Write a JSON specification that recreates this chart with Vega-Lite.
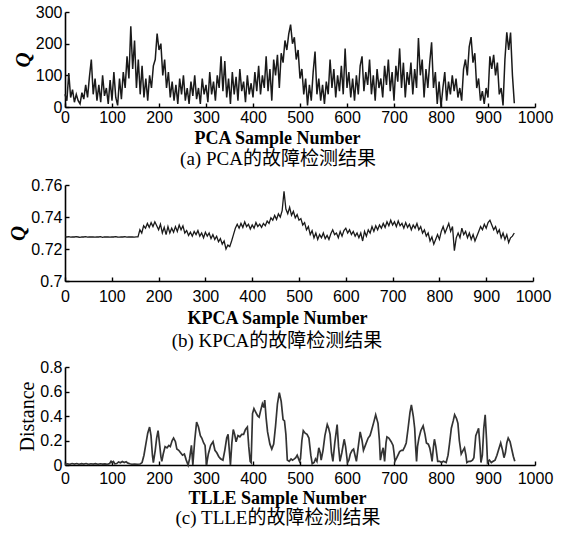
{
  "$schema": "https://vega.github.io/schema/vega-lite/v6.json",
  "background": "white",
  "padding": {"left": 7, "top": 4, "right": 5, "bottom": 0},
  "spacing": 8,
  "config": {
    "view": {"stroke": null},
    "axis": {
      "domainColor": "black", "domainWidth": 1.6, "tickColor": "black", "tickWidth": 1.4, "tickSize": -4,
      "labelFont": "Liberation Sans", "labelFontSize": 16, "labelColor": "black", "labelFlush": false, "labelOverlap": false,
      "titleColor": "black", "grid": false
    },
    "axisX": {"labelPadding": 6, "format": "d", "titleFont": "Liberation Serif", "titleFontSize": 18, "titleFontWeight": "bold", "titlePadding": 4, "titleX": 212, "titleAnchor": "middle"},
    "axisY": {"labelPadding": 7, "titlePadding": 2, "titleFont": "Liberation Serif"},
    "title": {"font": "Liberation Serif, Noto Sans CJK SC", "fontSize": 19, "fontWeight": "normal", "color": "black", "orient": "bottom", "anchor": "middle", "frame": "group", "dx": -22, "offset": 2}
  },
  "datasets": {
    "pca": [
      {"x":0,"q":40},{"x":4,"q":20},{"x":8,"q":107},{"x":12,"q":30},{"x":16,"q":55},{"x":20,"q":15},{"x":24,"q":40},{"x":28,"q":20},{"x":32,"q":10},{"x":36,"q":45},{"x":40,"q":25},{"x":44,"q":70},{"x":48,"q":30},{"x":52,"q":95},{"x":56,"q":150},{"x":60,"q":40},{"x":64,"q":90},{"x":68,"q":20},{"x":72,"q":70},{"x":76,"q":15},{"x":80,"q":100},{"x":84,"q":35},{"x":88,"q":60},{"x":92,"q":10},{"x":96,"q":85},
      {"x":100,"q":20},{"x":104,"q":110},{"x":108,"q":30},{"x":112,"q":5},{"x":116,"q":90},{"x":120,"q":25},{"x":124,"q":110},{"x":128,"q":60},{"x":132,"q":160},{"x":136,"q":90},{"x":140,"q":255},{"x":144,"q":120},{"x":148,"q":210},{"x":152,"q":60},{"x":156,"q":150},{"x":160,"q":40},{"x":164,"q":130},{"x":168,"q":30},{"x":172,"q":90},{"x":176,"q":20},{"x":180,"q":100},{"x":184,"q":60},{"x":188,"q":130},{"x":192,"q":150},{"x":196,"q":232},
      {"x":200,"q":180},{"x":204,"q":200},{"x":208,"q":100},{"x":212,"q":150},{"x":216,"q":60},{"x":220,"q":110},{"x":224,"q":30},{"x":228,"q":80},{"x":232,"q":20},{"x":236,"q":70},{"x":240,"q":10},{"x":244,"q":90},{"x":248,"q":40},{"x":252,"q":100},{"x":256,"q":20},{"x":260,"q":60},{"x":264,"q":10},{"x":268,"q":80},{"x":272,"q":35},{"x":276,"q":100},{"x":280,"q":25},{"x":284,"q":60},{"x":288,"q":10},{"x":292,"q":90},{"x":296,"q":40},
      {"x":300,"q":70},{"x":304,"q":15},{"x":308,"q":110},{"x":312,"q":40},{"x":316,"q":80},{"x":320,"q":20},{"x":324,"q":100},{"x":328,"q":60},{"x":332,"q":160},{"x":336,"q":50},{"x":340,"q":145},{"x":344,"q":30},{"x":348,"q":90},{"x":352,"q":10},{"x":356,"q":110},{"x":360,"q":40},{"x":364,"q":95},{"x":368,"q":20},{"x":372,"q":120},{"x":376,"q":50},{"x":380,"q":80},{"x":384,"q":15},{"x":388,"q":100},{"x":392,"q":40},{"x":396,"q":75},
      {"x":400,"q":30},{"x":404,"q":110},{"x":408,"q":50},{"x":412,"q":130},{"x":416,"q":40},{"x":420,"q":100},{"x":424,"q":60},{"x":428,"q":160},{"x":432,"q":50},{"x":436,"q":120},{"x":440,"q":20},{"x":444,"q":150},{"x":448,"q":100},{"x":452,"q":165},{"x":456,"q":60},{"x":460,"q":170},{"x":464,"q":140},{"x":468,"q":210},{"x":472,"q":180},{"x":476,"q":230},{"x":480,"q":260},{"x":484,"q":200},{"x":488,"q":220},{"x":492,"q":150},{"x":496,"q":180},
      {"x":500,"q":90},{"x":504,"q":120},{"x":508,"q":40},{"x":512,"q":90},{"x":516,"q":5},{"x":520,"q":70},{"x":524,"q":20},{"x":528,"q":110},{"x":532,"q":175},{"x":536,"q":40},{"x":540,"q":90},{"x":544,"q":20},{"x":548,"q":70},{"x":552,"q":10},{"x":556,"q":80},{"x":560,"q":40},{"x":564,"q":150},{"x":568,"q":60},{"x":572,"q":120},{"x":576,"q":30},{"x":580,"q":100},{"x":584,"q":50},{"x":588,"q":130},{"x":592,"q":40},{"x":596,"q":185},
      {"x":600,"q":60},{"x":604,"q":110},{"x":608,"q":30},{"x":612,"q":90},{"x":616,"q":20},{"x":620,"q":100},{"x":624,"q":40},{"x":628,"q":130},{"x":632,"q":160},{"x":636,"q":50},{"x":640,"q":110},{"x":644,"q":70},{"x":648,"q":150},{"x":652,"q":40},{"x":656,"q":100},{"x":660,"q":20},{"x":664,"q":120},{"x":668,"q":60},{"x":672,"q":90},{"x":676,"q":30},{"x":680,"q":130},{"x":684,"q":70},{"x":688,"q":150},{"x":692,"q":50},{"x":696,"q":110},
      {"x":700,"q":20},{"x":704,"q":130},{"x":708,"q":80},{"x":712,"q":185},{"x":716,"q":60},{"x":720,"q":140},{"x":724,"q":30},{"x":728,"q":110},{"x":732,"q":70},{"x":736,"q":140},{"x":740,"q":40},{"x":744,"q":120},{"x":748,"q":60},{"x":752,"q":218},{"x":756,"q":100},{"x":760,"q":150},{"x":764,"q":30},{"x":768,"q":120},{"x":772,"q":60},{"x":776,"q":140},{"x":780,"q":204},{"x":784,"q":60},{"x":788,"q":110},{"x":792,"q":10},{"x":796,"q":80},
      {"x":800,"q":0},{"x":804,"q":60},{"x":808,"q":110},{"x":812,"q":20},{"x":816,"q":80},{"x":820,"q":40},{"x":824,"q":100},{"x":828,"q":50},{"x":832,"q":90},{"x":836,"q":30},{"x":840,"q":60},{"x":844,"q":20},{"x":848,"q":120},{"x":852,"q":150},{"x":856,"q":100},{"x":860,"q":190},{"x":864,"q":221},{"x":868,"q":140},{"x":872,"q":170},{"x":876,"q":60},{"x":880,"q":90},{"x":884,"q":20},{"x":888,"q":50},{"x":892,"q":10},{"x":896,"q":60},
      {"x":900,"q":30},{"x":904,"q":160},{"x":908,"q":120},{"x":912,"q":165},{"x":916,"q":100},{"x":920,"q":140},{"x":924,"q":40},{"x":928,"q":60},{"x":932,"q":5},{"x":936,"q":150},{"x":940,"q":236},{"x":944,"q":180},{"x":948,"q":235},{"x":952,"q":100},{"x":956,"q":12}
    ],
    "kpca": [
      {"x":0,"q":0.7276},{"x":4,"q":0.7275},{"x":8,"q":0.7277},{"x":12,"q":0.7274},{"x":16,"q":0.7276},{"x":20,"q":0.7275},{"x":24,"q":0.7277},{"x":28,"q":0.7275},{"x":32,"q":0.7273},{"x":36,"q":0.7276},{"x":40,"q":0.7275},{"x":44,"q":0.7277},{"x":48,"q":0.7274},{"x":52,"q":0.7276},{"x":56,"q":0.7275},{"x":60,"q":0.7276},{"x":64,"q":0.7274},{"x":68,"q":0.7276},{"x":72,"q":0.7275},{"x":76,"q":0.7277},{"x":80,"q":0.7273},{"x":84,"q":0.7276},{"x":88,"q":0.7275},{"x":92,"q":0.7276},{"x":96,"q":0.7274},{"x":100,"q":0.7276},{"x":104,"q":0.7275},{"x":108,"q":0.7277},{"x":112,"q":0.7275},{"x":116,"q":0.7274},{"x":120,"q":0.7276},{"x":124,"q":0.7275},{"x":128,"q":0.7277},{"x":132,"q":0.7274},{"x":136,"q":0.7276},{"x":140,"q":0.7275},{"x":144,"q":0.7276},{"x":148,"q":0.7274},{"x":152,"q":0.7276},{"x":156,"q":0.7276},
      {"x":160,"q":0.732},{"x":164,"q":0.73},{"x":168,"q":0.7345},{"x":172,"q":0.733},{"x":176,"q":0.736},{"x":180,"q":0.7335},{"x":184,"q":0.7365},{"x":188,"q":0.734},{"x":192,"q":0.737},{"x":196,"q":0.7345},
      {"x":200,"q":0.732},{"x":204,"q":0.7355},{"x":208,"q":0.73},{"x":212,"q":0.7335},{"x":216,"q":0.729},{"x":220,"q":0.734},{"x":224,"q":0.73},{"x":228,"q":0.733},{"x":232,"q":0.7305},{"x":236,"q":0.734},{"x":240,"q":0.731},{"x":244,"q":0.735},{"x":248,"q":0.732},{"x":252,"q":0.7345},{"x":256,"q":0.73},
      {"x":260,"q":0.7315},{"x":264,"q":0.7285},{"x":268,"q":0.7305},{"x":272,"q":0.728},{"x":276,"q":0.731},{"x":280,"q":0.729},{"x":284,"q":0.7315},{"x":288,"q":0.728},{"x":292,"q":0.73},{"x":296,"q":0.727},{"x":300,"q":0.7305},{"x":304,"q":0.728},{"x":308,"q":0.73},{"x":312,"q":0.7265},{"x":316,"q":0.729},{"x":320,"q":0.726},
      {"x":324,"q":0.728},{"x":328,"q":0.7245},{"x":332,"q":0.7265},{"x":336,"q":0.723},{"x":340,"q":0.725},{"x":344,"q":0.72},{"x":348,"q":0.7225},{"x":352,"q":0.7215},{"x":356,"q":0.725},
      {"x":360,"q":0.729},{"x":364,"q":0.733},{"x":368,"q":0.7355},{"x":372,"q":0.733},{"x":376,"q":0.736},{"x":380,"q":0.7335},{"x":384,"q":0.737},{"x":388,"q":0.734},{"x":392,"q":0.7355},{"x":396,"q":0.7325},{"x":400,"q":0.735},{"x":404,"q":0.733},{"x":408,"q":0.7365},{"x":412,"q":0.734},{"x":416,"q":0.7355},{"x":420,"q":0.7335},{"x":424,"q":0.736},{"x":428,"q":0.7345},
      {"x":432,"q":0.7375},{"x":436,"q":0.736},{"x":440,"q":0.7395},{"x":444,"q":0.738},{"x":448,"q":0.741},{"x":452,"q":0.7385},{"x":456,"q":0.742},{"x":460,"q":0.74},{"x":464,"q":0.744},{"x":468,"q":0.756},
      {"x":472,"q":0.745},{"x":476,"q":0.742},{"x":480,"q":0.746},{"x":484,"q":0.741},{"x":488,"q":0.7435},{"x":492,"q":0.7395},{"x":496,"q":0.7415},{"x":500,"q":0.738},
      {"x":504,"q":0.739},{"x":508,"q":0.735},{"x":512,"q":0.7365},{"x":516,"q":0.732},{"x":520,"q":0.734},{"x":524,"q":0.729},{"x":528,"q":0.7315},{"x":532,"q":0.727},
      {"x":536,"q":0.73},{"x":540,"q":0.726},{"x":544,"q":0.729},{"x":548,"q":0.727},{"x":552,"q":0.73},{"x":556,"q":0.7265},{"x":560,"q":0.7285},{"x":564,"q":0.726},{"x":568,"q":0.7295},{"x":572,"q":0.732},{"x":576,"q":0.729},{"x":580,"q":0.73},{"x":584,"q":0.727},{"x":588,"q":0.731},{"x":592,"q":0.728},{"x":596,"q":0.7315},{"x":600,"q":0.733},{"x":604,"q":0.73},{"x":608,"q":0.732},{"x":612,"q":0.729},{"x":616,"q":0.731},{"x":620,"q":0.728},{"x":624,"q":0.73},{"x":628,"q":0.727},
      {"x":632,"q":0.73},{"x":636,"q":0.725},{"x":640,"q":0.731},{"x":644,"q":0.728},{"x":648,"q":0.732},{"x":652,"q":0.73},{"x":656,"q":0.734},{"x":660,"q":0.731},{"x":664,"q":0.7345},{"x":668,"q":0.732},{"x":672,"q":0.735},{"x":676,"q":0.733},{"x":680,"q":0.736},{"x":684,"q":0.7335},{"x":688,"q":0.737},{"x":692,"q":0.7345},{"x":696,"q":0.738},{"x":700,"q":0.735},
      {"x":704,"q":0.737},{"x":708,"q":0.734},{"x":712,"q":0.7375},{"x":716,"q":0.7345},{"x":720,"q":0.736},{"x":724,"q":0.733},{"x":728,"q":0.7365},{"x":732,"q":0.7335},{"x":736,"q":0.7355},{"x":740,"q":0.732},{"x":744,"q":0.735},{"x":748,"q":0.733},{"x":752,"q":0.736},{"x":756,"q":0.732},{"x":760,"q":0.734},
      {"x":764,"q":0.73},{"x":768,"q":0.732},{"x":772,"q":0.728},{"x":776,"q":0.73},{"x":780,"q":0.725},{"x":784,"q":0.7275},{"x":788,"q":0.723},{"x":792,"q":0.726},{"x":796,"q":0.729},{"x":800,"q":0.726},
      {"x":804,"q":0.731},{"x":808,"q":0.734},{"x":812,"q":0.73},{"x":816,"q":0.733},{"x":820,"q":0.736},{"x":824,"q":0.731},{"x":828,"q":0.734},{"x":832,"q":0.719},
      {"x":836,"q":0.727},{"x":840,"q":0.73},{"x":844,"q":0.727},{"x":848,"q":0.733},{"x":852,"q":0.729},{"x":856,"q":0.731},{"x":860,"q":0.727},{"x":864,"q":0.73},{"x":868,"q":0.726},{"x":872,"q":0.729},{"x":876,"q":0.725},{"x":880,"q":0.728},
      {"x":884,"q":0.731},{"x":888,"q":0.734},{"x":892,"q":0.732},{"x":896,"q":0.7355},{"x":900,"q":0.733},{"x":904,"q":0.7365},{"x":908,"q":0.738},{"x":912,"q":0.735},
      {"x":916,"q":0.732},{"x":920,"q":0.734},{"x":924,"q":0.73},{"x":928,"q":0.732},{"x":932,"q":0.727},{"x":936,"q":0.73},{"x":940,"q":0.726},{"x":944,"q":0.729},{"x":948,"q":0.724},{"x":952,"q":0.727},{"x":956,"q":0.728},{"x":960,"q":0.73}
    ],
    "tlle": [
      {"x":0,"d":0.005},{"x":5,"d":0.01},{"x":10,"d":0.006},{"x":15,"d":0.012},{"x":20,"d":0.007},{"x":25,"d":0.012},{"x":30,"d":0.006},{"x":35,"d":0.011},{"x":40,"d":0.007},{"x":45,"d":0.012},{"x":50,"d":0.006},{"x":55,"d":0.01},{"x":60,"d":0.007},{"x":65,"d":0.011},{"x":70,"d":0.006},{"x":75,"d":0.01},{"x":80,"d":0.007},{"x":85,"d":0.009},{"x":90,"d":0.006},{"x":95,"d":0.012},{"x":98,"d":0.03},{"x":100,"d":0.02},{"x":103,"d":0.028},{"x":106,"d":0.01},{"x":110,"d":0.012},{"x":114,"d":0.025},{"x":118,"d":0.018},{"x":122,"d":0.028},{"x":126,"d":0.02},{"x":130,"d":0.026},{"x":134,"d":0.015},{"x":138,"d":0.01},{"x":142,"d":0.006},{"x":148,"d":0.008},{"x":154,"d":0.006},{"x":160,"d":0.008},{"x":164,"d":0.02},{"x":168,"d":0.08},{"x":172,"d":0.17},{"x":176,"d":0.26},{"x":180,"d":0.31},{"x":183,"d":0.24},{"x":186,"d":0.08},{"x":188,"d":0.02},{"x":192,"d":0.12},{"x":195,"d":0.22},{"x":198,"d":0.28},{"x":201,"d":0.18},{"x":204,"d":0.07},{"x":206,"d":0.03},{"x":209,"d":0.09},{"x":213,"d":0.15},{"x":217,"d":0.14},{"x":221,"d":0.16},{"x":224,"d":0.15},{"x":228,"d":0.2},{"x":231,"d":0.22},{"x":235,"d":0.19},{"x":238,"d":0.13},{"x":242,"d":0.12},{"x":246,"d":0.1},{"x":250,"d":0.08},{"x":254,"d":0.09},{"x":258,"d":0.04},{"x":262,"d":0.0},{"x":265,"d":0.05},{"x":269,"d":0.16},{"x":272,"d":0.0},{"x":276,"d":0.2},{"x":280,"d":0.35},{"x":284,"d":0.31},{"x":288,"d":0.24},{"x":291,"d":0.22},{"x":295,"d":0.18},{"x":298,"d":0.16},{"x":301,"d":0.0},{"x":305,"d":0.09},{"x":310,"d":0.16},{"x":315,"d":0.19},{"x":319,"d":0.12},{"x":323,"d":0.1},{"x":327,"d":0.07},{"x":331,"d":0.05},{"x":336,"d":0.04},{"x":340,"d":0.12},{"x":344,"d":0.22},{"x":347,"d":0.25},{"x":350,"d":0.1},{"x":352,"d":0.0},{"x":355,"d":0.18},{"x":358,"d":0.29},{"x":361,"d":0.25},{"x":364,"d":0.19},{"x":368,"d":0.24},{"x":372,"d":0.23},{"x":376,"d":0.25},{"x":380,"d":0.25},{"x":384,"d":0.29},{"x":388,"d":0.31},{"x":391,"d":0.15},{"x":394,"d":0.03},{"x":396,"d":0.02},{"x":399,"d":0.42},{"x":402,"d":0.46},{"x":406,"d":0.43},{"x":410,"d":0.4},{"x":413,"d":0.39},{"x":416,"d":0.44},{"x":420,"d":0.5},{"x":423,"d":0.47},{"x":425,"d":0.53},{"x":428,"d":0.38},{"x":431,"d":0.27},{"x":436,"d":0.17},{"x":440,"d":0.13},{"x":444,"d":0.17},{"x":448,"d":0.32},{"x":452,"d":0.5},{"x":456,"d":0.59},{"x":460,"d":0.52},{"x":464,"d":0.37},{"x":467,"d":0.36},{"x":470,"d":0.25},{"x":473,"d":0.04},{"x":477,"d":0.03},{"x":481,"d":0.05},{"x":484,"d":0.04},{"x":488,"d":0.05},{"x":491,"d":0.06},{"x":494,"d":0.08},{"x":497,"d":0.05},{"x":499,"d":0.03},{"x":501,"d":0.05},{"x":504,"d":0.2},{"x":507,"d":0.28},{"x":511,"d":0.26},{"x":515,"d":0.25},{"x":519,"d":0.22},{"x":523,"d":0.08},{"x":526,"d":0.01},{"x":530,"d":0.02},{"x":533,"d":0.05},{"x":536,"d":0.03},{"x":540,"d":0.14},{"x":543,"d":0.1},{"x":545,"d":0.04},{"x":549,"d":0.12},{"x":553,"d":0.24},{"x":558,"d":0.33},{"x":561,"d":0.3},{"x":564,"d":0.25},{"x":567,"d":0.1},{"x":570,"d":0.03},{"x":574,"d":0.18},{"x":579,"d":0.33},{"x":582,"d":0.15},{"x":585,"d":0.03},{"x":589,"d":0.1},{"x":594,"d":0.21},{"x":597,"d":0.15},{"x":601,"d":0.02},{"x":604,"d":0.04},{"x":607,"d":0.09},{"x":611,"d":0.12},{"x":614,"d":0.13},{"x":617,"d":0.08},{"x":620,"d":0.03},{"x":624,"d":0.15},{"x":628,"d":0.27},{"x":632,"d":0.2},{"x":635,"d":0.12},{"x":640,"d":0.17},{"x":645,"d":0.22},{"x":649,"d":0.24},{"x":652,"d":0.28},{"x":657,"d":0.35},{"x":661,"d":0.41},{"x":666,"d":0.34},{"x":669,"d":0.2},{"x":671,"d":0.04},{"x":674,"d":0.1},{"x":677,"d":0.14},{"x":680,"d":0.03},{"x":683,"d":0.18},{"x":685,"d":0.23},{"x":689,"d":0.22},{"x":694,"d":0.19},{"x":698,"d":0.16},{"x":700,"d":0.1},{"x":702,"d":0.03},{"x":706,"d":0.06},{"x":712,"d":0.11},{"x":716,"d":0.12},{"x":719,"d":0.12},{"x":723,"d":0.15},{"x":726,"d":0.18},{"x":730,"d":0.3},{"x":734,"d":0.43},{"x":737,"d":0.49},{"x":741,"d":0.4},{"x":744,"d":0.3},{"x":746,"d":0.15},{"x":748,"d":0.03},{"x":750,"d":0.15},{"x":753,"d":0.22},{"x":757,"d":0.28},{"x":762,"d":0.32},{"x":766,"d":0.25},{"x":769,"d":0.18},{"x":773,"d":0.17},{"x":776,"d":0.14},{"x":779,"d":0.08},{"x":781,"d":0.03},{"x":784,"d":0.15},{"x":786,"d":0.21},{"x":789,"d":0.15},{"x":793,"d":0.03},{"x":797,"d":0.03},{"x":801,"d":0.02},{"x":805,"d":0.03},{"x":811,"d":0.02},{"x":815,"d":0.08},{"x":818,"d":0.17},{"x":822,"d":0.3},{"x":826,"d":0.36},{"x":829,"d":0.41},{"x":833,"d":0.38},{"x":836,"d":0.34},{"x":839,"d":0.2},{"x":843,"d":0.09},{"x":847,"d":0.12},{"x":850,"d":0.14},{"x":853,"d":0.08},{"x":855,"d":0.02},{"x":859,"d":0.03},{"x":863,"d":0.03},{"x":867,"d":0.04},{"x":870,"d":0.06},{"x":874,"d":0.24},{"x":878,"d":0.28},{"x":880,"d":0.3},{"x":883,"d":0.15},{"x":885,"d":0.02},{"x":888,"d":0.08},{"x":891,"d":0.3},{"x":894,"d":0.41},{"x":897,"d":0.2},{"x":899,"d":0.02},{"x":903,"d":0.04},{"x":907,"d":0.02},{"x":911,"d":0.03},{"x":915,"d":0.04},{"x":919,"d":0.08},{"x":923,"d":0.13},{"x":927,"d":0.18},{"x":931,"d":0.12},{"x":934,"d":0.06},{"x":937,"d":0.1},{"x":940,"d":0.18},{"x":943,"d":0.22},{"x":947,"d":0.19},{"x":951,"d":0.12},{"x":954,"d":0.07},{"x":957,"d":0.03}
    ]
  },
  "vconcat": [
    {
      "width": 470, "height": 95,
      "data": {"name": "pca"},
      "mark": {"type": "line", "color": "#1a1a1a", "strokeWidth": 1.5},
      "encoding": {
        "x": {"field": "x", "type": "quantitative", "scale": {"domain": [0, 1000], "nice": false},
              "axis": {"values": [0,100,200,300,400,500,600,700,800,900,1000], "title": "PCA Sample Number"}},
        "y": {"field": "q", "type": "quantitative", "scale": {"domain": [0, 300], "nice": false},
              "axis": {"values": [0,100,200,300], "title": "Q", "titleFontStyle": "italic", "titleFontWeight": "bold", "titleFontSize": 21}}
      },
      "title": {"text": "(a) PCA的故障检测结果", "offset": 3}
    },
    {
      "width": 468, "height": 96,
      "data": {"name": "kpca"},
      "mark": {"type": "line", "color": "#1a1a1a", "strokeWidth": 1.3},
      "encoding": {
        "x": {"field": "x", "type": "quantitative", "scale": {"domain": [0, 1000], "nice": false},
              "axis": {"values": [0,100,200,300,400,500,600,700,800,900,1000], "title": "KPCA Sample Number", "labelPadding": 11, "titlePadding": 5}},
        "y": {"field": "q", "type": "quantitative", "scale": {"domain": [0.7, 0.76], "nice": false, "zero": false},
              "axis": {"values": [0.7,0.72,0.74,0.76], "format": "~g", "title": "Q", "titleFontStyle": "italic", "titleFontWeight": "bold", "titleFontSize": 21}}
      },
      "title": {"text": "(b) KPCA的故障检测结果", "offset": 5}
    },
    {
      "width": 470, "height": 98,
      "data": {"name": "tlle"},
      "mark": {"type": "line", "color": "#333333", "strokeWidth": 1.7},
      "encoding": {
        "x": {"field": "x", "type": "quantitative", "scale": {"domain": [0, 1000], "nice": false},
              "axis": {"values": [0,100,200,300,400,500,600,700,800,900,1000], "title": "TLLE Sample Number", "labelPadding": 9, "titlePadding": 3}},
        "y": {"field": "d", "type": "quantitative", "scale": {"domain": [0, 0.8], "nice": false},
              "axis": {"values": [0,0.2,0.4,0.6,0.8], "format": "~g", "title": "Distance", "titleFontWeight": "normal", "titleFontSize": 20}}
      },
      "title": {"text": "(c) TLLE的故障检测结果", "offset": 2}
    }
  ]
}
